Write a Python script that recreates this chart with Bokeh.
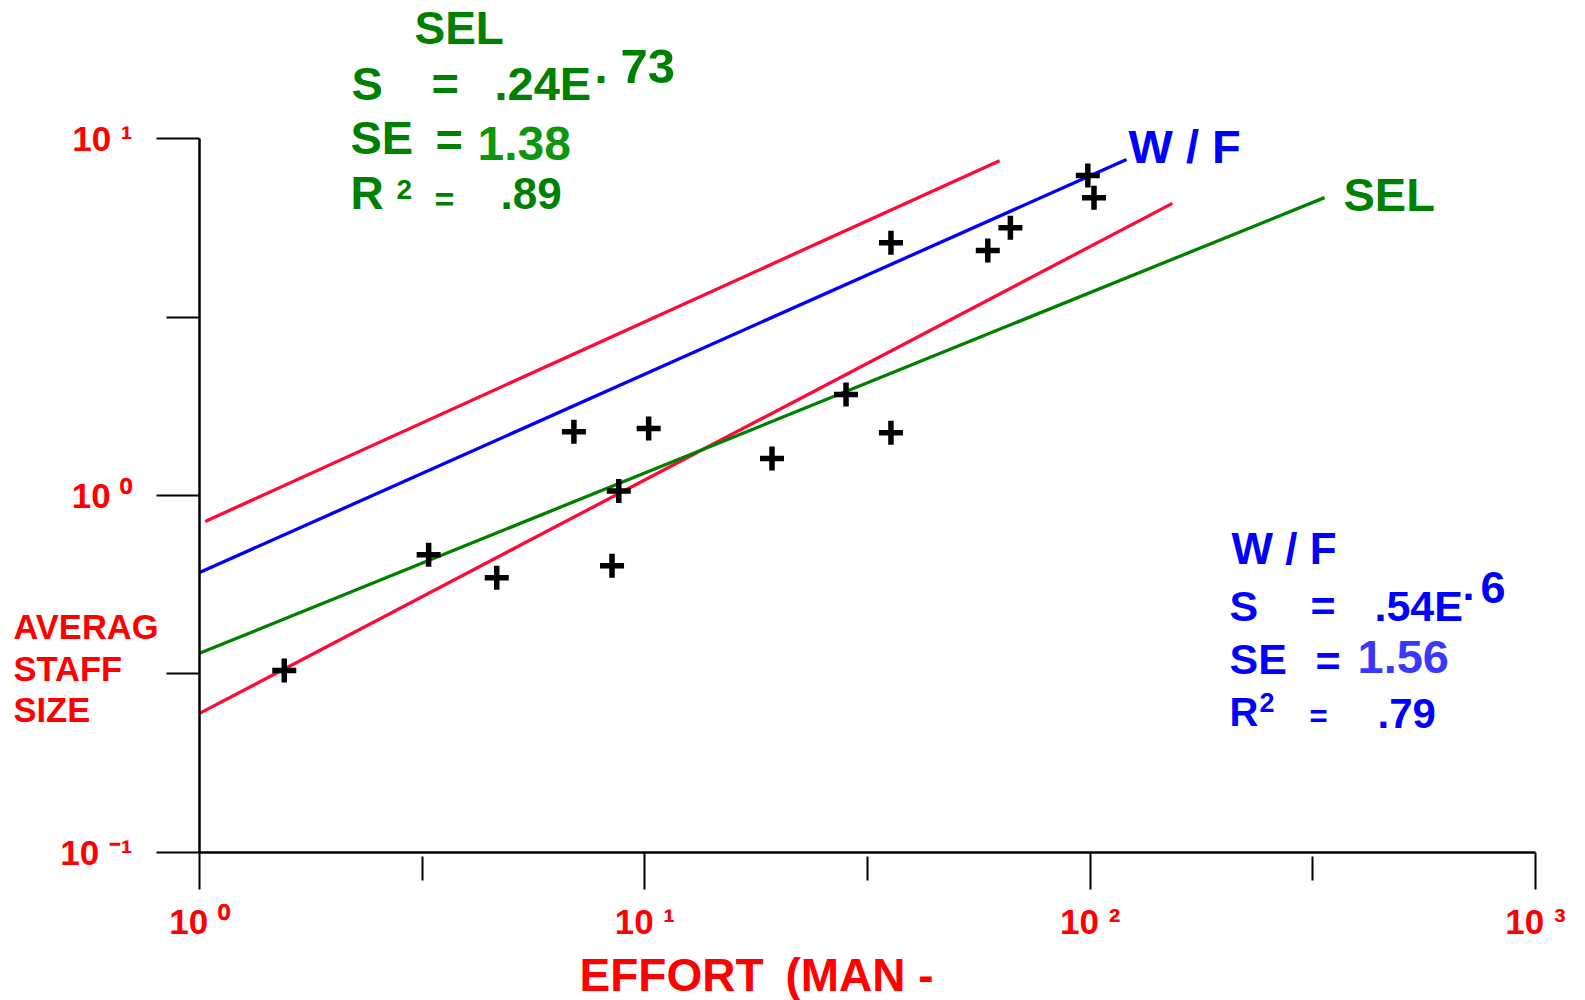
from bokeh.plotting import figure
from bokeh.models import Label, FixedTicker
from bokeh.embed import file_html
from bokeh.resources import INLINE

# ---- data ----
effort = [1.55, 3.27, 4.65, 6.93, 10.2, 8.74, 8.44, 19.3, 28.3, 35.7, 35.7, 58.9, 66.2, 98.8, 102.0]
staff = [0.323, 0.682, 0.588, 1.51, 1.54, 1.03, 0.635, 1.27, 1.92, 1.50, 5.11, 4.86, 5.63, 7.89, 6.83]

wf_effort = [1.0, 120.7]
wf_staff = [0.608, 8.75]
sel_effort = [1.0, 336.0]
sel_staff = [0.361, 6.84]
upper_effort = [1.03, 62.6]
upper_staff = [0.846, 8.68]
lower_effort = [1.0, 153.0]
lower_staff = [0.245, 6.59]

x_ticks = [1, 10, 100, 1000]
x_tick_labels = ["10\u00a0\u2070", "10\u00a0\u00b9", "10\u00a0\u00b2", "10\u00a0\u00b3"]
x_minor = [3.162, 31.62, 316.2]
y_ticks = [0.1, 1, 10]
y_tick_labels = ["10\u00a0\u207b\u00b9", "10\u00a0\u2070", "10\u00a0\u00b9"]
y_minor = [0.3162, 3.162]

FONT = "Liberation Sans"
RED = "#ff0000"
LINE_RED = "#ff0a38"
GREEN = "#008000"
GREEN2 = "#0c960c"
BLUE = "#0000ff"
BLUE2 = "#3838ff"

# ---- layout: the plot frame covers the whole canvas; axes sit at fixed places ----
W, H = 1585, 1000
X0_PX, X_DEC = 199.0, 445.33     # pixel of effort = 1, pixels per decade
Y0_PX, Y_DEC = 495.0, 356.7      # pixel of staff = 1, pixels per decade

x_range = (10 ** (-X0_PX / X_DEC), 10 ** ((W - X0_PX) / X_DEC))
y_range = (10 ** (-(H - Y0_PX) / Y_DEC), 10 ** (Y0_PX / Y_DEC))

p = figure(width=W, height=H, x_axis_type="log", y_axis_type="log",
           x_range=x_range, y_range=y_range, title=None,
           min_border=0, toolbar_location=None, output_backend="svg")
p.outline_line_color = None
p.grid.visible = False
p.background_fill_color = "white"
p.border_fill_color = "white"

for ax, ticks, minor, labels in ((p.xaxis[0], x_ticks, x_minor, x_tick_labels),
                                  (p.yaxis[0], y_ticks, y_minor, y_tick_labels)):
    ax.ticker = FixedTicker(ticks=ticks, minor_ticks=minor)
    ax.major_label_overrides = {t: l for t, l in zip(ticks, labels)}
    ax.bounds = (ticks[0], ticks[-1])
    ax.axis_line_color = "black"
    ax.axis_line_width = 2.5
    ax.major_tick_line_color = "black"
    ax.major_tick_line_width = 2
    ax.minor_tick_line_color = "black"
    ax.minor_tick_line_width = 2
    ax.major_tick_in = 0
    ax.major_label_text_font = FONT
    ax.major_label_text_font_style = "bold"
    ax.major_label_text_font_size = "35px"
    ax.major_label_text_color = RED

p.xaxis[0].fixed_location = y_ticks[0]
p.yaxis[0].fixed_location = x_ticks[0]
p.xaxis[0].major_tick_out = 37
p.xaxis[0].minor_tick_in = -4
p.xaxis[0].minor_tick_out = 28
p.xaxis[0].major_label_standoff = 13
p.yaxis[0].major_tick_out = 43
p.yaxis[0].minor_tick_in = 0
p.yaxis[0].minor_tick_out = 33
p.yaxis[0].major_label_standoff = 24

# fitted lines
p.line(upper_effort, upper_staff, line_color=LINE_RED, line_width=3.3)
p.line(lower_effort, lower_staff, line_color=LINE_RED, line_width=3.3)
p.line(wf_effort, wf_staff, line_color=BLUE, line_width=3.3)
p.line(sel_effort, sel_staff, line_color=GREEN, line_width=3.3)

# observations
p.scatter(effort, staff, marker="cross", size=24, line_width=5.5, line_color="black")

# ---- texts (page coordinates: left x, baseline y) ----
K = 0.34  # measured shift of the rendered baseline, in em


def txt(t, px, py, size, color):
    p.add_layout(Label(x=px, y=H - py + K * size, x_units="screen", y_units="screen",
                       text=t, text_font=FONT, text_font_style="bold",
                       text_font_size=f"{size}px", text_color=color,
                       text_align="left", text_baseline="alphabetic"))


# SEL block
txt("SEL", 414, 43, 46, GREEN)
txt("S", 351, 99, 47, GREEN)
txt("=", 431, 99, 47, GREEN)
txt(".24E", 494, 99, 47, GREEN)
txt(".", 594, 82, 47, GREEN)
txt("73", 620, 83, 49, GREEN)
txt("SE", 350, 153, 47, GREEN)
txt("=", 435, 155, 47, GREEN)
txt("1.38", 477, 159, 48, GREEN2)
txt("R", 350, 208, 46, GREEN)
txt("2", 396, 199, 28, GREEN)
txt("=", 434, 210, 34, GREEN)
txt(".89", 500, 208, 44, GREEN)

# W / F block
txt("W / F", 1231, 563, 44, BLUE)
txt("S", 1229, 620, 43, BLUE)
txt("=", 1310, 620, 43, BLUE)
txt(".54E", 1374, 620, 43, BLUE)
txt(".", 1462, 600, 43, BLUE)
txt("6", 1480, 602, 45, BLUE)
txt("SE", 1229, 673, 43, BLUE)
txt("=", 1315, 675, 43, BLUE)
txt("1.56", 1357, 672, 47, BLUE2)
txt("R", 1229, 725, 40, BLUE)
txt("2", 1259, 711, 27, BLUE)
txt("=", 1309, 727, 31, BLUE)
txt(".79", 1377, 727, 42, BLUE)

# line labels
txt("W / F", 1128, 162, 47, BLUE)
txt("SEL", 1343, 210, 47, GREEN)

# axis titles
txt("AVERAG", 13, 638, 34.5, RED)
txt("STAFF", 13, 680, 34.5, RED)
txt("SIZE", 13, 721, 34.5, RED)
txt("EFFORT \u2009(MAN -", 579, 990, 46, RED)

open("out.html", "w").write(file_html(p, INLINE))
